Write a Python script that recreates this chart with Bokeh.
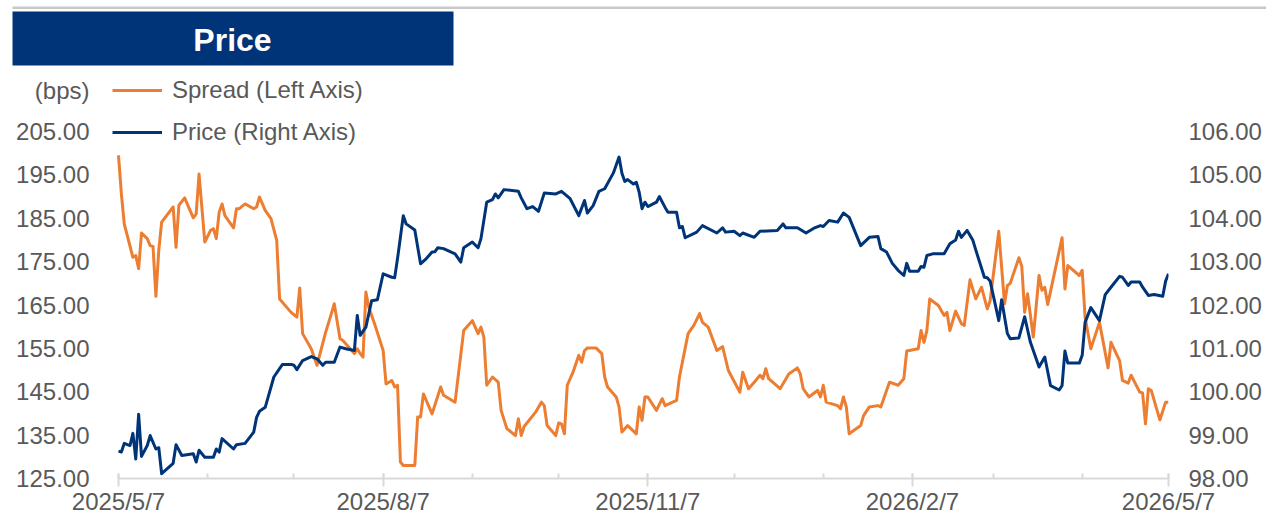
import pandas as pd
from bokeh.plotting import figure
from bokeh.layouts import column
from bokeh.models import (Range1d, LinearAxis, FixedTicker, NumeralTickFormatter,
                          Legend, LegendItem, Label)
from bokeh.embed import file_html
from bokeh.resources import INLINE

# ---------------- data ----------------
START_DATE = "2025-05-07"
END_DATE = "2026-05-07"

# days since START_DATE
spread_day = [0, 1, 2, 5, 6, 7, 8, 10, 11, 12, 13, 14, 15, 19, 20, 21, 23, 26, 27, 28, 30, 32, 33, 34, 35, 36, 37,
              40, 41, 42, 44, 47, 48, 49, 51, 53, 55, 56, 60, 62, 63, 64, 67, 69, 72, 74, 75, 77, 78, 82, 83, 84,
              85, 86, 87, 89, 92, 93, 95, 96, 97, 98, 99, 103, 104, 105, 106, 109, 112, 113, 117, 120, 123, 125,
              126, 127, 128, 130, 132, 133, 135, 138, 139, 140, 141, 145, 147, 148, 149, 152, 153, 154, 155, 156,
              158, 160, 161, 162, 163, 166, 168, 169, 170, 173, 174, 175, 177, 180, 181, 182, 183, 184, 187, 189,
              190, 194, 195, 198, 200, 202, 203, 205, 208, 210, 212, 216, 217, 219, 221, 223, 224, 225, 226, 230,
              233, 236, 237, 238, 240, 243, 244, 245, 246, 248, 250, 251, 252, 253, 254, 258, 259, 261, 264, 265,
              268, 271, 273, 274, 278, 279, 280, 281, 282, 285, 287, 288, 289, 291, 293, 294, 296, 298, 300, 302,
              303, 306, 308, 309, 310, 313, 314, 315, 316, 318, 320, 321, 322, 323, 328, 329, 330, 334, 335, 336,
              338, 341, 344, 345, 348, 349, 351, 352, 355, 356, 357, 358, 359, 362, 364, 365]
spread_bps = [199.5, 190.6, 183.7, 176.0, 176.4, 173.4, 181.6, 180.3, 178.7, 178.5, 167.0, 177.6, 184.1, 187.6,
              178.3, 188.0, 189.7, 185.1, 186.0, 195.2, 179.5, 182.2, 182.6, 180.3, 186.4, 188.3, 185.6, 182.8,
              187.2, 187.2, 188.3, 187.2, 187.6, 189.9, 186.8, 184.9, 179.9, 166.4, 163.3, 162.2, 168.9, 158.4,
              154.9, 151.1, 158.7, 163.0, 165.3, 157.2, 156.8, 153.8, 154.9, 153.8, 153.0, 168.0, 164.5, 160.7,
              154.5, 146.8, 147.6, 146.1, 146.5, 128.8, 128.0, 128.0, 139.2, 139.2, 144.5, 139.9, 146.1, 144.2,
              142.6, 159.1, 161.4, 158.4, 159.9, 157.6, 146.5, 148.4, 147.2, 140.7, 136.5, 134.9, 138.8, 134.9,
              137.0, 140.3, 142.6, 141.8, 137.2, 134.9, 137.8, 137.6, 135.3, 146.5, 149.5, 153.4, 151.8, 154.5,
              155.1, 155.1, 153.8, 148.4, 146.1, 143.8, 141.5, 135.7, 137.2, 135.3, 141.5, 138.4, 143.8, 143.8,
              140.7, 143.4, 141.8, 143.0, 148.4, 158.4, 160.3, 163.0, 161.0, 159.9, 154.5, 155.4, 149.9, 144.9,
              149.5, 145.7, 147.2, 148.8, 148.0, 150.3, 148.0, 145.7, 149.1, 150.5, 149.1, 145.7, 143.8, 145.3,
              143.8, 146.5, 142.6, 142.2, 141.8, 141.1, 143.8, 141.5, 135.3, 137.2, 139.5, 141.5, 141.8, 141.5,
              147.2, 146.5, 148.0, 154.4, 154.9, 159.1, 156.4, 159.1, 166.4, 164.9, 162.6, 163.3, 159.1, 163.6,
              160.7, 160.3, 170.8, 166.4, 169.1, 164.1, 166.0, 182.0, 165.3, 169.5, 170.0, 175.9, 173.9, 163.3,
              167.6, 157.6, 171.8, 168.4, 169.1, 165.1, 180.5, 168.7, 174.1, 171.8, 173.0, 162.2, 154.9, 161.0,
              150.5, 156.4, 152.2, 147.6, 147.0, 148.8, 144.9, 144.7, 137.6, 145.7, 145.3, 138.5, 142.6, 142.6]

price_day = [0, 1, 2, 4, 5, 6, 7, 8, 10, 11, 13, 14, 15, 19, 20, 22, 26, 27, 28, 30, 33, 34, 35, 36, 40, 41, 44,
             47, 48, 49, 51, 54, 57, 60, 61, 62, 64, 67, 69, 71, 72, 75, 77, 79, 82, 83, 84, 86, 88, 90, 92, 95,
             96, 97, 99, 100, 103, 105, 107, 109, 110, 111, 113, 117, 119, 120, 123, 125, 126, 128, 130, 131,
             132, 134, 139, 140, 142, 144, 146, 148, 152, 154, 157, 160, 162, 163, 165, 167, 169, 172, 174, 175,
             176, 177, 179, 180, 181, 182, 183, 184, 187, 188, 190, 191, 194, 195, 196, 197, 201, 203, 208, 210,
             211, 214, 216, 217, 221, 223, 229, 231, 232, 236, 239, 242, 244, 245, 247, 250, 252, 254, 258, 261,
             264, 265, 267, 269, 271, 273, 274, 275, 278, 279, 280, 281, 283, 287, 289, 291, 292, 293, 295, 297,
             298, 301, 302, 303, 306, 307, 309, 310, 313, 315, 317, 320, 322, 324, 327, 328, 329, 330, 334, 335,
             336, 338, 341, 343, 345, 348, 349, 351, 352, 355, 356, 358, 360, 363, 364, 365]
price_value = [98.63, 98.61, 98.81, 98.76, 99.04, 98.45, 99.48, 98.51, 98.76, 98.99, 98.68, 98.71, 98.11, 98.35,
               98.78, 98.53, 98.57, 98.38, 98.65, 98.49, 98.49, 98.68, 98.61, 98.92, 98.68, 98.78, 98.81, 99.07,
               99.41, 99.55, 99.64, 100.34, 100.63, 100.63, 100.61, 100.51, 100.72, 100.81, 100.76, 100.61,
               100.68, 100.68, 101.03, 100.99, 100.95, 101.76, 101.30, 101.49, 102.10, 102.12, 102.72, 102.64,
               102.63, 103.07, 104.06, 103.87, 103.73, 102.95, 103.07, 103.22, 103.23, 103.32, 103.30, 103.18,
               102.99, 103.32, 103.45, 103.32, 103.53, 104.37, 104.43, 104.56, 104.47, 104.66, 104.62, 104.47,
               104.22, 104.27, 104.16, 104.58, 104.56, 104.62, 104.45, 104.06, 104.41, 104.12, 104.29, 104.62,
               104.68, 105.04, 105.41, 105.04, 104.85, 104.89, 104.79, 104.83, 104.60, 104.22, 104.37, 104.27,
               104.37, 104.50, 104.25, 104.14, 104.14, 103.78, 103.81, 103.55, 103.68, 103.83, 103.66, 103.78,
               103.68, 103.70, 103.60, 103.66, 103.56, 103.70, 103.72, 103.87, 103.78, 103.78, 103.66, 103.78,
               103.83, 103.81, 103.95, 103.91, 104.12, 104.02, 103.37, 103.56, 103.58, 103.30, 103.22, 102.96,
               102.80, 102.68, 102.96, 102.78, 102.78, 102.89, 102.87, 103.14, 103.18, 103.18, 103.41, 103.50,
               103.70, 103.56, 103.72, 103.49, 103.27, 102.64, 102.63, 102.55, 101.64, 102.12, 101.34, 101.22,
               101.24, 101.73, 101.14, 100.57, 100.80, 100.14, 100.04, 100.14, 100.94, 100.66, 100.66, 100.84,
               101.60, 101.94, 101.64, 102.24, 102.41, 102.66, 102.64, 102.45, 102.53, 102.53, 102.41, 102.22,
               102.24, 102.20, 102.55, 102.72]

x_major_dates = ["2025-05-07", "2025-08-07", "2025-11-07", "2026-02-07", "2026-05-07"]
x_major_labels = ["2025/5/7", "2025/8/7", "2025/11/7", "2026/2/7", "2026/5/7"]
x_minor_dates = ["2025-05-07", "2025-06-07", "2025-07-07", "2025-08-07", "2025-09-07", "2025-10-07",
                 "2025-11-07", "2025-12-07", "2026-01-07", "2026-02-07", "2026-03-07", "2026-04-07", "2026-05-07"]
left_ticks = [125, 135, 145, 155, 165, 175, 185, 195, 205]
right_ticks = [98, 99, 100, 101, 102, 103, 104, 105, 106]

series_names = ["Spread (Left Axis)", "Price (Right Axis)"]
title_text = "Price"
left_unit = "(bps)"

# ---------------- style / geometry ----------------
ORANGE = "#ED7D31"
NAVY = "#003478"
GREY_TXT = "#595959"
AXIS_GREY = "#D9D9D9"
FONT = "Liberation Sans"

W = 1266
HEADER_H = 70
MAIN_H = 447
FRAME_LEFT = 110          # px from left of canvas
AXIS_START_PX = 118       # where the first date sits
AXIS_END_PX = 1168
AXIS_TOP_PX = 131 - HEADER_H   # pixel of top tick inside main figure
AXIS_BOTTOM_PX = 478 - HEADER_H
UNIT_LABEL_PX = 90 - HEADER_H

# ---------------- header figure (rule + title bar) ----------------
hdr = figure(width=W, height=HEADER_H, x_range=Range1d(0, W), y_range=Range1d(HEADER_H, 0),
             x_axis_location=None, y_axis_location=None, toolbar_location=None,
             output_backend="svg", min_border=0)
hdr.min_border_left = hdr.min_border_right = hdr.min_border_top = hdr.min_border_bottom = 0
hdr.frame_align = False
hdr.outline_line_color = None
hdr.xgrid.visible = False
hdr.ygrid.visible = False
hdr.quad(left=[12], right=[W], top=[6], bottom=[8.5], fill_color="#C8C8C8", line_color=None)
hdr.quad(left=[12], right=[453], top=[11], bottom=[65], fill_color=NAVY, line_color=None)
hdr.add_layout(Label(x=232, y=39, text=title_text, text_align="center", text_baseline="middle",
                     text_font=FONT, text_font_size="32px", text_font_style="bold", text_color="white"))

# ---------------- main figure ----------------
t0 = pd.Timestamp(START_DATE)
t1 = pd.Timestamp(END_DATE)
spread_date = t0 + pd.to_timedelta(spread_day, unit="D")
price_date = t0 + pd.to_timedelta(price_day, unit="D")

days_per_px = (t1 - t0).days / (AXIS_END_PX - AXIS_START_PX)
x_start = t0 - pd.Timedelta(days=(AXIS_START_PX - FRAME_LEFT) * days_per_px)

l_per_px = (left_ticks[-1] - left_ticks[0]) / (AXIS_BOTTOM_PX - AXIS_TOP_PX)
r_per_px = (right_ticks[-1] - right_ticks[0]) / (AXIS_BOTTOM_PX - AXIS_TOP_PX)
l_top = left_ticks[-1] + AXIS_TOP_PX * l_per_px
r_top = right_ticks[-1] + AXIS_TOP_PX * r_per_px
unit_tick = left_ticks[-1] + (AXIS_TOP_PX - UNIT_LABEL_PX) * l_per_px


def ms(d):
    return float(pd.Timestamp(d).value // 10**6)


p = figure(width=W, height=MAIN_H, x_axis_type="datetime",
           x_range=Range1d(start=x_start, end=t1),
           y_range=Range1d(left_ticks[0], l_top),
           output_backend="svg", toolbar_location=None,
           min_border_left=FRAME_LEFT, min_border_right=W - AXIS_END_PX,
           min_border_top=0, min_border_bottom=MAIN_H - AXIS_BOTTOM_PX)
p.frame_align = False
p.outline_line_color = None
p.xgrid.visible = False
p.ygrid.visible = False

p.extra_y_ranges = {"price": Range1d(right_ticks[0], r_top)}

r_spread = p.line(spread_date, spread_bps, line_color=ORANGE, line_width=3, line_join="round")
r_price = p.line(price_date, price_value, line_color=NAVY, line_width=3, line_join="round",
                 y_range_name="price")

# x axis
xa = p.xaxis[0]
xa.bounds = (t0, t1)
xa.ticker = FixedTicker(ticks=[ms(d) for d in x_major_dates], minor_ticks=[ms(d) for d in x_minor_dates])
xa.major_label_overrides = {ms(d): lab for d, lab in zip(x_major_dates, x_major_labels)}
xa.axis_line_color = AXIS_GREY
xa.axis_line_width = 2
xa.major_tick_line_color = AXIS_GREY
xa.major_tick_line_width = 2
xa.minor_tick_line_color = AXIS_GREY
xa.minor_tick_line_width = 2
xa.major_tick_in = 5
xa.major_tick_out = 8
xa.minor_tick_in = 5
xa.minor_tick_out = 0
xa.major_label_text_font = FONT
xa.major_label_text_font_size = "24px"
xa.major_label_text_color = GREY_TXT
xa.major_label_standoff = 1

# left axis (with unit label on top)
ya = p.yaxis[0]
ya.ticker = FixedTicker(ticks=left_ticks + [unit_tick])
ya.formatter = NumeralTickFormatter(format="0.00")
ya.major_label_overrides = {unit_tick: left_unit}
ya.axis_line_color = None
ya.major_tick_line_color = None
ya.minor_tick_line_color = None
ya.major_label_text_font = FONT
ya.major_label_text_font_size = "24px"
ya.major_label_text_color = GREY_TXT
ya.major_label_standoff = 15

# right axis
ra = LinearAxis(y_range_name="price", ticker=FixedTicker(ticks=right_ticks),
                formatter=NumeralTickFormatter(format="0.00"))
ra.axis_line_color = None
ra.major_tick_line_color = None
ra.minor_tick_line_color = None
ra.major_label_text_font = FONT
ra.major_label_text_font_size = "24px"
ra.major_label_text_color = GREY_TXT
ra.major_label_standoff = 14
p.add_layout(ra, "right")

legend = Legend(items=[LegendItem(label=series_names[0], renderers=[r_spread]),
                       LegendItem(label=series_names[1], renderers=[r_price])],
                location=(2, AXIS_BOTTOM_PX - (132 - HEADER_H) - 14), orientation="vertical",
                glyph_width=50, glyph_height=28, label_height=28, spacing=14,
                padding=0, margin=0, label_standoff=10,
                label_text_font=FONT, label_text_font_size="24px", label_text_color=GREY_TXT,
                border_line_color=None, background_fill_alpha=0)
p.add_layout(legend)

layout = column(hdr, p, spacing=0)
open("out.html", "w").write(file_html(layout, INLINE))
